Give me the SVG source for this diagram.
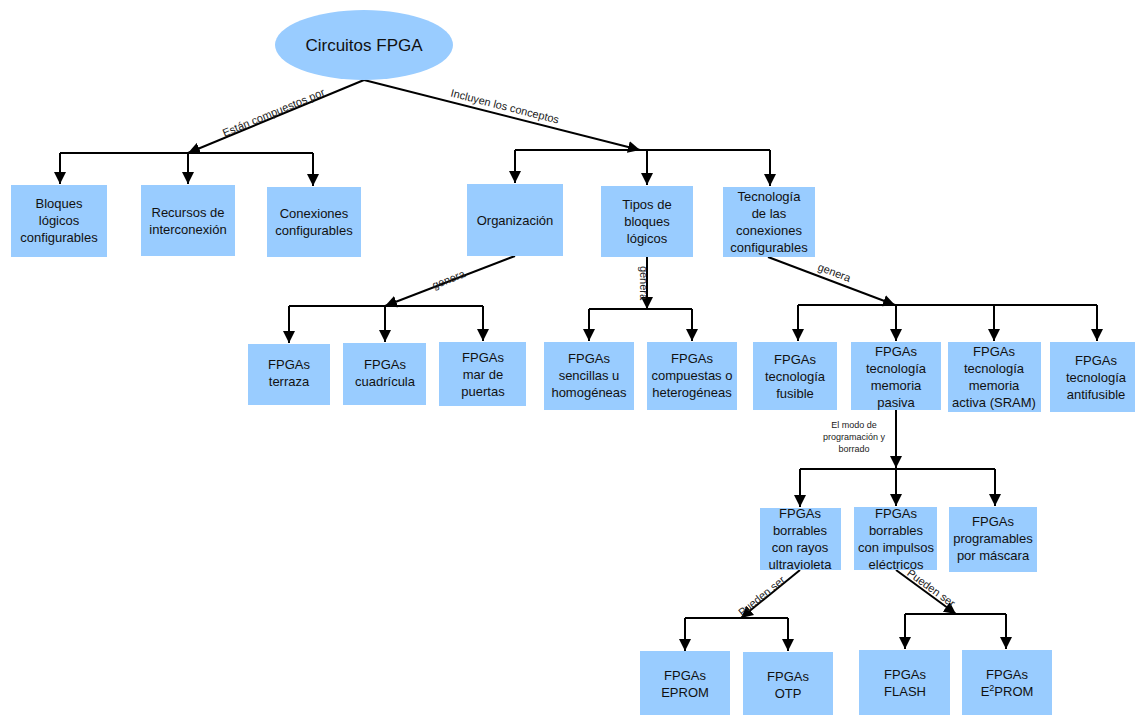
<svg xmlns="http://www.w3.org/2000/svg" width="1135" height="715" viewBox="0 0 1135 715">
<style>
.b{fill:#99ccff}
.t{font-family:"Liberation Sans",Arial,sans-serif;font-size:13px;fill:#111;text-anchor:middle}
.l{font-family:"Liberation Sans",Arial,sans-serif;font-size:11px;fill:#222;text-anchor:middle}
.s{font-family:"Liberation Sans",Arial,sans-serif;font-size:9px;fill:#222;text-anchor:middle}
.c{fill:none;stroke:#000;stroke-width:2}
</style>
<defs>
<marker id="a" markerUnits="userSpaceOnUse" markerWidth="12" markerHeight="12" refX="10" refY="5" orient="auto" viewBox="0 0 10 10">
<path d="M0,0 L10,5 L0,10 z" fill="#000"/>
</marker>
</defs>
<rect width="1135" height="715" fill="#fff"/>
<g id="connectors">
<path class="c" d="M364,80 L188,153" marker-end="url(#a)"/>
<path class="c" d="M60,153 H313"/>
<path class="c" d="M60,153 V184" marker-end="url(#a)"/>
<path class="c" d="M188,153 V184" marker-end="url(#a)"/>
<path class="c" d="M313,153 V186" marker-end="url(#a)"/>
<path class="c" d="M364,80 L640,150" marker-end="url(#a)"/>
<path class="c" d="M515,150 H770"/>
<path class="c" d="M515,150 V183" marker-end="url(#a)"/>
<path class="c" d="M647,150 V185" marker-end="url(#a)"/>
<path class="c" d="M770,150 V186" marker-end="url(#a)"/>
<path class="c" d="M515,256 L385,306" marker-end="url(#a)"/>
<path class="c" d="M289,306 H483"/>
<path class="c" d="M289,306 V343" marker-end="url(#a)"/>
<path class="c" d="M385,306 V342" marker-end="url(#a)"/>
<path class="c" d="M483,306 V341" marker-end="url(#a)"/>
<path class="c" d="M647,257 V309" marker-end="url(#a)"/>
<path class="c" d="M589,309 H692"/>
<path class="c" d="M589,309 V341" marker-end="url(#a)"/>
<path class="c" d="M692,309 V341" marker-end="url(#a)"/>
<path class="c" d="M768,257 L895,305" marker-end="url(#a)"/>
<path class="c" d="M798,305 H1097"/>
<path class="c" d="M798,305 V341" marker-end="url(#a)"/>
<path class="c" d="M896,305 V341" marker-end="url(#a)"/>
<path class="c" d="M994,305 V341" marker-end="url(#a)"/>
<path class="c" d="M1097,305 V341" marker-end="url(#a)"/>
<path class="c" d="M896,410 V468" marker-end="url(#a)"/>
<path class="c" d="M800,469 H995"/>
<path class="c" d="M800,469 V507" marker-end="url(#a)"/>
<path class="c" d="M896,469 V506" marker-end="url(#a)"/>
<path class="c" d="M995,469 V506" marker-end="url(#a)"/>
<path class="c" d="M800,570 L741,618" marker-end="url(#a)"/>
<path class="c" d="M685,618 H788"/>
<path class="c" d="M685,618 V651" marker-end="url(#a)"/>
<path class="c" d="M788,618 V651" marker-end="url(#a)"/>
<path class="c" d="M896,570 L956,614" marker-end="url(#a)"/>
<path class="c" d="M905,614 H1006"/>
<path class="c" d="M905,614 V649" marker-end="url(#a)"/>
<path class="c" d="M1006,614 V649" marker-end="url(#a)"/>
<text class="l" transform="translate(275,116) rotate(-22.5)">Están compuestos por</text>
<text class="l" transform="translate(504,110) rotate(14.2)">Incluyen los conceptos</text>
<text class="l" transform="translate(450,283) rotate(-21)">genera</text>
<text class="l" transform="translate(640,283) rotate(90)">genera</text>
<text class="l" transform="translate(833,276) rotate(20.7)">genera</text>
<text class="s" x="854" y="428">El modo de</text>
<text class="s" x="854" y="440">programación y</text>
<text class="s" x="854" y="452">borrado</text>
<text class="l" transform="translate(764,599) rotate(-39)">Pueden ser</text>
<text class="l" transform="translate(929,591) rotate(36)">Pueden ser</text>
</g>
<g id="root"><ellipse class="b" cx="364" cy="45" rx="89" ry="35"/><text class="t" x="364" y="51" style="font-size:17px">Circuitos FPGA</text></g>
<g id="n1"><rect class="b" x="11" y="185" width="96" height="72"/><text class="t" x="59" y="208">Bloques</text><text class="t" x="59" y="225">lógicos</text><text class="t" x="59" y="242">configurables</text></g>
<g id="n2"><rect class="b" x="141" y="185" width="94" height="71"/><text class="t" x="188" y="217">Recursos de</text><text class="t" x="188" y="234">interconexión</text></g>
<g id="n3"><rect class="b" x="267" y="187" width="94" height="70"/><text class="t" x="314" y="218">Conexiones</text><text class="t" x="314" y="235">configurables</text></g>
<g id="n4"><rect class="b" x="467" y="184" width="96" height="72"/><text class="t" x="515" y="225">Organización</text></g>
<g id="n5"><rect class="b" x="601" y="186" width="92" height="71"/><text class="t" x="647" y="209">Tipos de</text><text class="t" x="647" y="226">bloques</text><text class="t" x="647" y="243">lógicos</text></g>
<g id="n6"><rect class="b" x="723" y="187" width="92" height="70"/><text class="t" x="769" y="201">Tecnología</text><text class="t" x="769" y="218">de las</text><text class="t" x="769" y="235">conexiones</text><text class="t" x="769" y="252">configurables</text></g>
<g id="n7"><rect class="b" x="248" y="344" width="82" height="61"/><text class="t" x="289" y="369">FPGAs</text><text class="t" x="289" y="386">terraza</text></g>
<g id="n8"><rect class="b" x="343" y="343" width="83" height="62"/><text class="t" x="385" y="369">FPGAs</text><text class="t" x="385" y="386">cuadrícula</text></g>
<g id="n9"><rect class="b" x="439" y="342" width="87" height="64"/><text class="t" x="483" y="362">FPGAs</text><text class="t" x="483" y="379">mar de</text><text class="t" x="483" y="396">puertas</text></g>
<g id="n10"><rect class="b" x="544" y="342" width="90" height="68"/><text class="t" x="589" y="363">FPGAs</text><text class="t" x="589" y="380">sencillas u</text><text class="t" x="589" y="397">homogéneas</text></g>
<g id="n11"><rect class="b" x="647" y="342" width="90" height="68"/><text class="t" x="692" y="363">FPGAs</text><text class="t" x="692" y="380">compuestas o</text><text class="t" x="692" y="397">heterogéneas</text></g>
<g id="n12"><rect class="b" x="753" y="342" width="84" height="68"/><text class="t" x="795" y="364">FPGAs</text><text class="t" x="795" y="381">tecnología</text><text class="t" x="795" y="398">fusible</text></g>
<g id="n13"><rect class="b" x="851" y="342" width="90" height="68"/><text class="t" x="896" y="356">FPGAs</text><text class="t" x="896" y="373">tecnología</text><text class="t" x="896" y="390">memoria</text><text class="t" x="896" y="407">pasiva</text></g>
<g id="n14"><rect class="b" x="948" y="342" width="93" height="70"/><text class="t" x="994" y="356">FPGAs</text><text class="t" x="994" y="373">tecnología</text><text class="t" x="994" y="390">memoria</text><text class="t" x="994" y="407">activa (SRAM)</text></g>
<g id="n15"><rect class="b" x="1050" y="342" width="85" height="70"/><text class="t" x="1096" y="365">FPGAs</text><text class="t" x="1096" y="382">tecnología</text><text class="t" x="1096" y="399">antifusible</text></g>
<g id="n16"><rect class="b" x="760" y="508" width="81" height="62"/><text class="t" x="800" y="518">FPGAs</text><text class="t" x="800" y="535">borrables</text><text class="t" x="800" y="552">con rayos</text><text class="t" x="800" y="569">ultravioleta</text></g>
<g id="n17"><rect class="b" x="854" y="507" width="83" height="63"/><text class="t" x="896" y="518">FPGAs</text><text class="t" x="896" y="535">borrables</text><text class="t" x="896" y="552">con impulsos</text><text class="t" x="896" y="569">eléctricos</text></g>
<g id="n18"><rect class="b" x="949" y="507" width="88" height="65"/><text class="t" x="993" y="526">FPGAs</text><text class="t" x="993" y="543">programables</text><text class="t" x="993" y="560">por máscara</text></g>
<g id="n19"><rect class="b" x="640" y="651" width="90" height="64"/><text class="t" x="685" y="680">FPGAs</text><text class="t" x="685" y="697">EPROM</text></g>
<g id="n20"><rect class="b" x="743" y="652" width="90" height="63"/><text class="t" x="788" y="681">FPGAs</text><text class="t" x="788" y="698">OTP</text></g>
<g id="n21"><rect class="b" x="859" y="650" width="91" height="65"/><text class="t" x="905" y="679">FPGAs</text><text class="t" x="905" y="696">FLASH</text></g>
<g id="n22"><rect class="b" x="962" y="650" width="90" height="65"/><text class="t" x="1007" y="679">FPGAs</text><text class="t" x="1007" y="696">E<tspan baseline-shift="super" style="font-size:9px">2</tspan>PROM</text></g>
</svg>
